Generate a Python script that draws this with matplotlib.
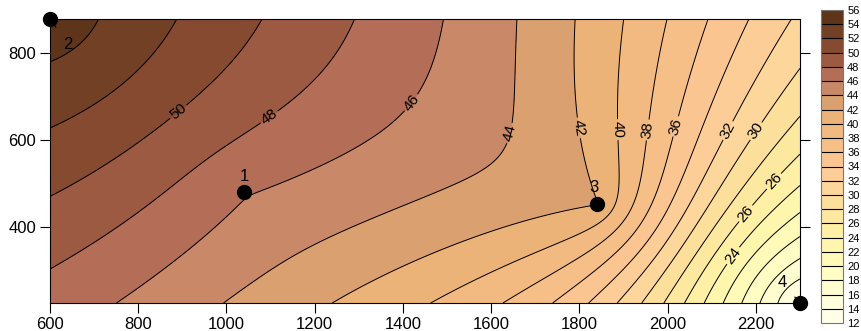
import numpy as np
import matplotlib
matplotlib.use('Agg')
import matplotlib.pyplot as plt
from matplotlib.colors import ListedColormap, BoundaryNorm

plt.rcParams['font.family'] = ['Liberation Sans', 'DejaVu Sans']

# sample sites and measured values
site_ids = ['1', '2', '3', '4']
site_x = [1040, 600, 1840, 2300]
site_y = [481, 878, 453, 225]
site_val = [46.15, 55.3, 42.05, 13.5]

# power variogram exponent, and stretch applied to y distances
vario_power = 1.0
y_stretch = 1.15

levels = list(range(12, 58, 2))
# fill colours, lowest band first
band_colours = ['#fffee8', '#fffedd', '#fffdd0', '#fffcc4', '#fffab8', '#fff6ae',
                '#fff0a6', '#fde8a0', '#fddf9c', '#fdd69b', '#fdcd98', '#fbc592',
                '#f6bf88', '#f2ba80', '#ecb378', '#dba070', '#c98868', '#b46e58',
                '#9c5a42', '#864a30', '#724025', '#5e351b']

x_ticks = [600, 800, 1000, 1200, 1400, 1600, 1800, 2000, 2200]
y_ticks = [400, 600, 800]
x_lim = [600, 2300]
y_lim = [225, 878]

# where the contour labels go
label_spots = [(906, 646), (1110, 634), (1484, 634), (1613, 623), (1767, 623),
               (1862, 623), (1953, 623), (2034, 627), (2113, 634), (2190, 627),
               (2226, 519), (2190, 420), (2147, 335)]


def vario(h):
  return h ** vario_power


def krige(gx, gy):
  # ordinary kriging, power variogram, no nugget
  X = np.array(site_x, dtype=float)
  Y = np.array(site_y, dtype=float) * y_stretch
  n = len(X)
  A = np.ones((n + 1, n + 1))
  A[:n, :n] = vario(np.hypot(X[:, None] - X[None, :], Y[:, None] - Y[None, :]))
  A[n, n] = 0
  b = np.append(np.array(site_val, dtype=float), 0)
  sol = np.linalg.solve(A, b)
  out = np.full(gx.shape, sol[n])
  for i in range(n):
    out += sol[i] * vario(np.hypot(gx - X[i], gy * y_stretch - Y[i]))
  return out


gx, gy = np.meshgrid(np.linspace(x_lim[0], x_lim[1], 500), np.linspace(y_lim[0], y_lim[1], 250))
gz = krige(gx, gy)

cmap = ListedColormap(band_colours)
norm = BoundaryNorm(levels, cmap.N)

fig = plt.figure(figsize=(8.62, 3.31), dpi=100)
ax = fig.add_axes([50 / 862, 28 / 331, 750 / 862, 284 / 331])
cax = fig.add_axes([821 / 862, 8 / 331, 22 / 862, 313 / 331])

cf = ax.contourf(gx, gy, gz, levels=levels, cmap=cmap, norm=norm)
cs = ax.contour(gx, gy, gz, levels=levels, colors='black', linewidths=0.7)
ax.clabel(cs, fontsize=11, fmt='%d', manual=label_spots, inline=True, inline_spacing=2)

ax.plot(site_x, site_y, 'o', color='black', ms=10, clip_on=False, zorder=5)
ax.text(site_x[0], site_y[0] + 35, site_ids[0], fontsize=12, ha='center', va='center')
ax.text(site_x[2] - 8, site_y[2] + 37, site_ids[2], fontsize=12, ha='center', va='center')
ax.annotate(site_ids[1], xy=(site_x[1], site_y[1]), xytext=(641, 820), fontsize=12,
            ha='center', va='center', arrowprops=dict(arrowstyle='-', lw=0.8, color='black', shrinkA=6, shrinkB=0))
ax.annotate(site_ids[3], xy=(site_x[3], site_y[3]), xytext=(2259, 273), fontsize=12,
            ha='center', va='center', arrowprops=dict(arrowstyle='-', lw=0.8, color='black', shrinkA=6, shrinkB=0))

ax.set_xlim(x_lim)
ax.set_ylim(y_lim)
ax.set_xticks(x_ticks)
ax.set_yticks(y_ticks)
ax.tick_params(axis='both', direction='out', length=7, width=0.8, labelsize=12, pad=3)
ax.tick_params(axis='y', right=True, pad=3)
for s in ax.spines.values():
  s.set_linewidth(0.8)

cb = fig.colorbar(cf, cax=cax, ticks=levels, drawedges=True)
cb.outline.set_edgecolor('#777777')
cb.outline.set_linewidth(0.8)
cb.dividers.set_color('black')
cb.dividers.set_linewidth(0.8)
cax.tick_params(length=0, labelsize=8, pad=3)

plt.savefig('out.png')
